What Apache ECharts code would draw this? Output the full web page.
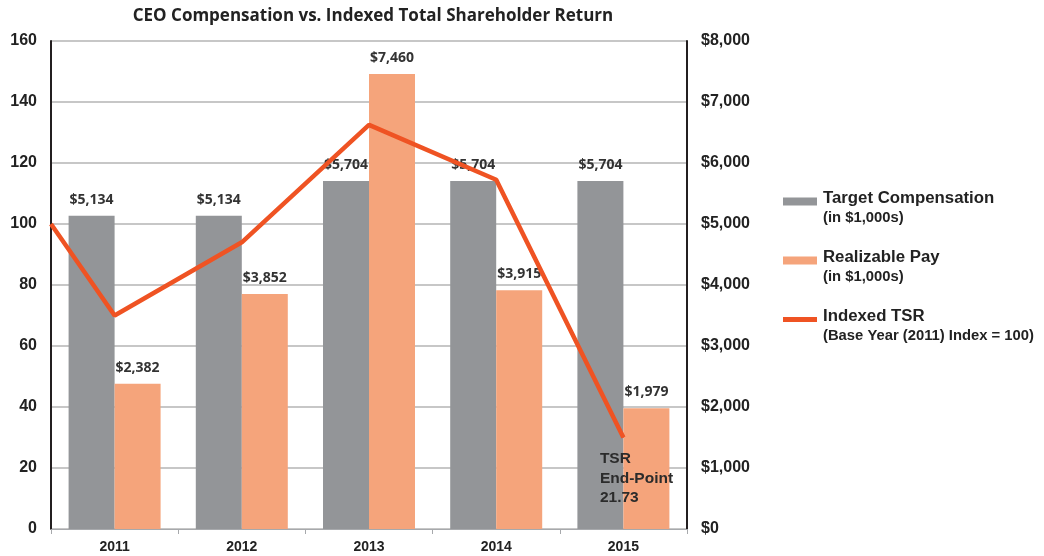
<!DOCTYPE html>
<html>
<head>
<meta charset="utf-8">
<script src="https://cdn.jsdelivr.net/npm/echarts@6/dist/echarts.min.js"></script>
<style>
  html, body { margin: 0; padding: 0; background: #fff; }
  #chart { width: 1044px; height: 556px; }
</style>
</head>
<body>
<div id="chart"></div>
<script>
// data
var years = ['2011', '2012', '2013', '2014', '2015'];
var targetComp = [5134, 5134, 5704, 5704, 5704];
var realizablePay = [2382, 3852, 7460, 3915, 1979];
// TSR points: first one is the base year start at the left axis
var tsrX = [-0.5, 0, 1, 2, 3, 4];
var tsrY = [100, 70, 94, 132.5, 114.5, 30];
var leftTicks = [0, 160, 20];
var rightTicks = [0, 8000, 1000];

var gray = '#939598';
var peach = '#F5A47B';
var red = '#EF5323';
var dark = '#231F20';

var chart = echarts.init(document.getElementById('chart'));

var tsrData = tsrX.map(function (x, i) { return [x, tsrY[i]]; });
var lastPt = tsrData[tsrData.length - 1];

var barLabel = {
   show: true,
   position: 'top',
   distance: 9,
   formatter: function (p) { return '$' + p.value.toLocaleString('en-US'); },
   fontFamily: 'Open Sans',
   fontWeight: 'bold',
   fontSize: 14,
   color: '#333'
};

var subText = {
   'Target Compensation': '(in $1,000s)',
   'Realizable Pay': '(in $1,000s)',
   'Indexed TSR': '(Base Year (2011) Index = 100)'
};

var option = {
   backgroundColor: '#fff',
   animation: false,
   title: {
      text: 'CEO Compensation vs. Indexed Total Shareholder Return',
      left: 368,
      textAlign: 'center',
      top: 3,
      textStyle: { fontFamily: 'Open Sans', fontWeight: 'bold', fontSize: 17, color: '#222' }
   },
   legend: {
      orient: 'vertical',
      left: 778,
      top: 185,
      itemWidth: 34,
      itemHeight: 8,
      itemGap: 24,
      textStyle: {
         padding: [13, 0, 0, 1],
         rich: {
            a: { fontFamily: 'Liberation Sans', fontWeight: 'bold', fontSize: 16.8, color: '#222', lineHeight: 19 },
            b: { fontFamily: 'Liberation Sans', fontWeight: 'bold', fontSize: 14.8, color: '#222', lineHeight: 19 }
         }
      },
      formatter: function (name) {
         return '{a|' + name + '}\n{b|' + subText[name] + '}';
      },
      data: [
         { name: 'Target Compensation', icon: 'rect' },
         { name: 'Realizable Pay', icon: 'rect' },
         { name: 'Indexed TSR', icon: 'path://M0,0 M0,8 M0,1.5 h34 v5 h-34 z' }
      ]
   },
   grid: { left: 51, right: 357, top: 41, bottom: 27 },
   xAxis: [
      {
         type: 'category',
         data: years,
         axisLine: { lineStyle: { color: '#a7a9ac', width: 1 } },
         axisTick: { show: true, length: 5, lineStyle: { color: '#a7a9ac' } },
         axisLabel: { fontFamily: 'Liberation Sans', fontWeight: 'bold', fontSize: 14, color: '#222', margin: 11 }
      },
      {
         type: 'value',
         min: -0.5,
         max: 4.5,
         show: false
      }
   ],
   yAxis: [
      {
         type: 'value',
         min: leftTicks[0],
         max: leftTicks[1],
         interval: leftTicks[2],
         axisLine: { show: true, onZero: false, lineStyle: { color: dark, width: 2 } },
         axisTick: { show: false },
         axisLabel: { fontFamily: 'Liberation Sans', fontWeight: 'bold', fontSize: 16, color: '#222', margin: 14 },
         splitLine: { lineStyle: { color: '#b5b5b5', width: 1.5 } }
      },
      {
         type: 'value',
         min: rightTicks[0],
         max: rightTicks[1],
         interval: rightTicks[2],
         axisLine: { show: true, onZero: false, lineStyle: { color: dark, width: 2 } },
         axisTick: { show: false },
         axisLabel: {
            fontFamily: 'Liberation Sans', fontWeight: 'bold', fontSize: 16, color: '#222', margin: 14,
            formatter: function (v) { return '$' + v.toLocaleString('en-US'); }
         },
         splitLine: { show: false }
      }
   ],
   series: [
      {
         name: 'Target Compensation',
         type: 'bar',
         yAxisIndex: 1,
         data: targetComp,
         barWidth: 46,
         barGap: '0%',
         itemStyle: { color: gray },
         label: barLabel
      },
      {
         name: 'Realizable Pay',
         type: 'bar',
         yAxisIndex: 1,
         data: realizablePay,
         barWidth: 46,
         barGap: '0%',
         itemStyle: { color: peach },
         label: barLabel
      },
      {
         name: 'Indexed TSR',
         type: 'line',
         xAxisIndex: 1,
         yAxisIndex: 0,
         symbol: 'none',
         data: tsrData,
         lineStyle: { color: red, width: 4.5 },
         itemStyle: { color: red },
         z: 5,
         markPoint: {
            symbol: 'circle',
            symbolSize: 1,
            itemStyle: { color: red },
            label: {
               show: true,
               position: [-23, 12],
               align: 'left',
               verticalAlign: 'top',
               formatter: 'TSR\nEnd-Point\n21.73',
               fontFamily: 'Liberation Sans',
               fontWeight: 'bold',
               fontSize: 15.5,
               lineHeight: 19.5,
               color: '#2b2b2b'
            },
            data: [{ coord: lastPt }]
         }
      }
   ]
};
chart.setOption(option);
</script>
</body>
</html>
